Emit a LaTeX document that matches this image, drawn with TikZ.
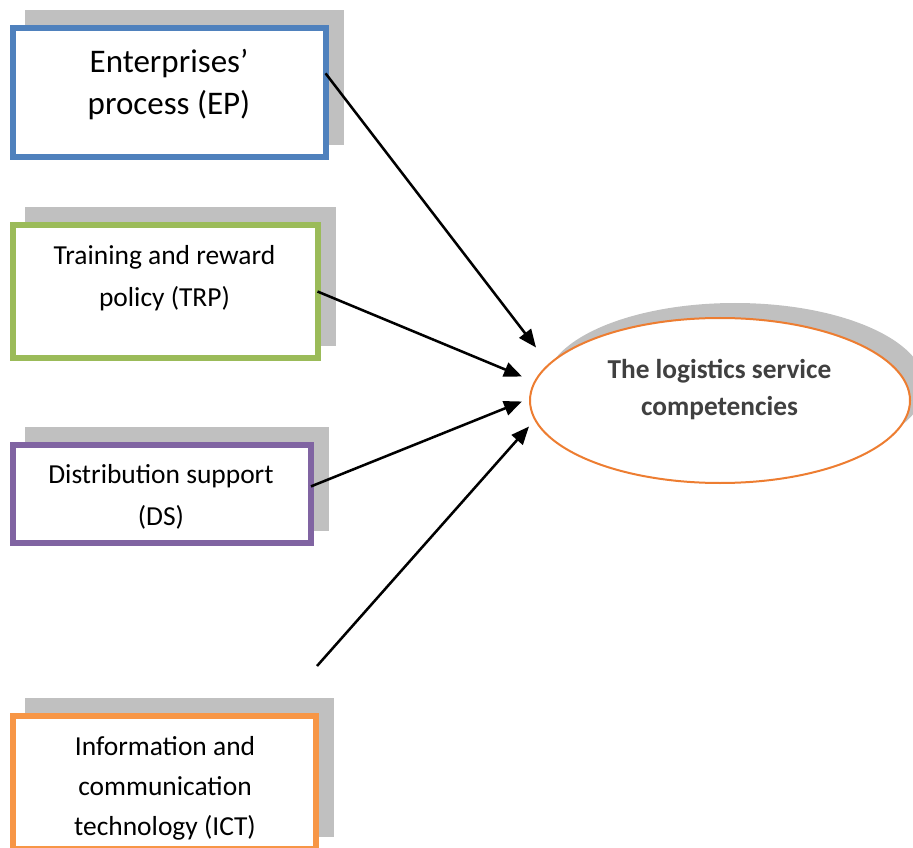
\documentclass[tikz,border=0pt]{standalone}
\usepackage{fontspec}
\setmainfont{Carlito}
\usetikzlibrary{positioning, shapes.geometric, arrows.meta, shadows, calc}
\definecolor{epblue}{HTML}{4F81BD}
\definecolor{trpgreen}{HTML}{9BBB59}
\definecolor{dspurple}{HTML}{8064A2}
\definecolor{ictorange}{HTML}{F79646}
\definecolor{lscorange}{HTML}{ED7D31}
\definecolor{shadowgray}{HTML}{C0C0C0}
\definecolor{lsctext}{HTML}{404040}

\begin{document}
\begin{tikzpicture}[
    x=0.75pt, y=-0.75pt,
    factor/.style={draw, rectangle, line width=4.5pt, fill=white, inner sep=0pt, outer sep=0pt,
        general shadow={fill=shadowgray, draw=shadowgray, shadow xshift=11.25pt, shadow yshift=11.25pt}},
    factortext/.style={align=center, font=\fontsize{20.6}{31.5}\selectfont},
    arrow/.style={-{Triangle[length=13.5pt, width=11pt]}, line width=1.9pt}
]
    \useasboundingbox (0,0) rectangle (913,848);

    % Four factor boxes down the left side
    \node[factor, draw=epblue, minimum width=234.4pt, minimum height=96.8pt] (ep) at (169.25,92.5) {};
    \node[factor, draw=trpgreen, minimum width=228.4pt, minimum height=100.2pt] (trp) at (165.25,291.5) {};
    \node[factor, draw=dspurple, minimum width=223.5pt, minimum height=73.7pt] (ds) at (162,494.2) {};
    \node[factor, draw=ictorange, minimum width=227.6pt, minimum height=99.5pt] (ict) at (164.75,782.7) {};

    \node[factortext, font=\fontsize{24.75}{31.5}\selectfont] (ep-txt) at (169,85) {Enterprises’\\process (EP)};
    \node[factortext] (trp-txt) at (164.5,278) {Training and reward\\policy (TRP)};
    \node[factortext] (ds-txt) at (161,497) {Distribution support\\(DS)};
    \node[factortext, font=\fontsize{20.6}{30}\selectfont] (ict-txt) at (165,788) {Information and\\communication\\technology (ICT)};

    % The outcome
    \node[ellipse, draw=lscorange, line width=1.5pt, fill=white, inner sep=0pt,
        minimum width=285pt, minimum height=123.75pt,
        general shadow={fill=shadowgray, shadow xshift=11.25pt, shadow yshift=11.25pt}] (lsc) at (720,400.5) {};
    \node[align=center, text=lsctext, font=\bfseries\fontsize{20.5}{27.75}\selectfont] (lsc-txt) at (719.5,389.5)
        {The logistics service\\competencies};

    \coordinate (ict-start) at (317,666);

    \draw[arrow] (ep.7.5) -- ($(lsc.west)+(7,-53)$);
    \draw[arrow] (trp.east) -- ($(lsc.west)+(-7,-24)$);
    \draw[arrow] (ds.3) -- ($(lsc.west)+(-7,1)$);
    \draw[arrow] (ict-start) -- ($(lsc.west)+(0,26)$);
\end{tikzpicture}
\end{document}
